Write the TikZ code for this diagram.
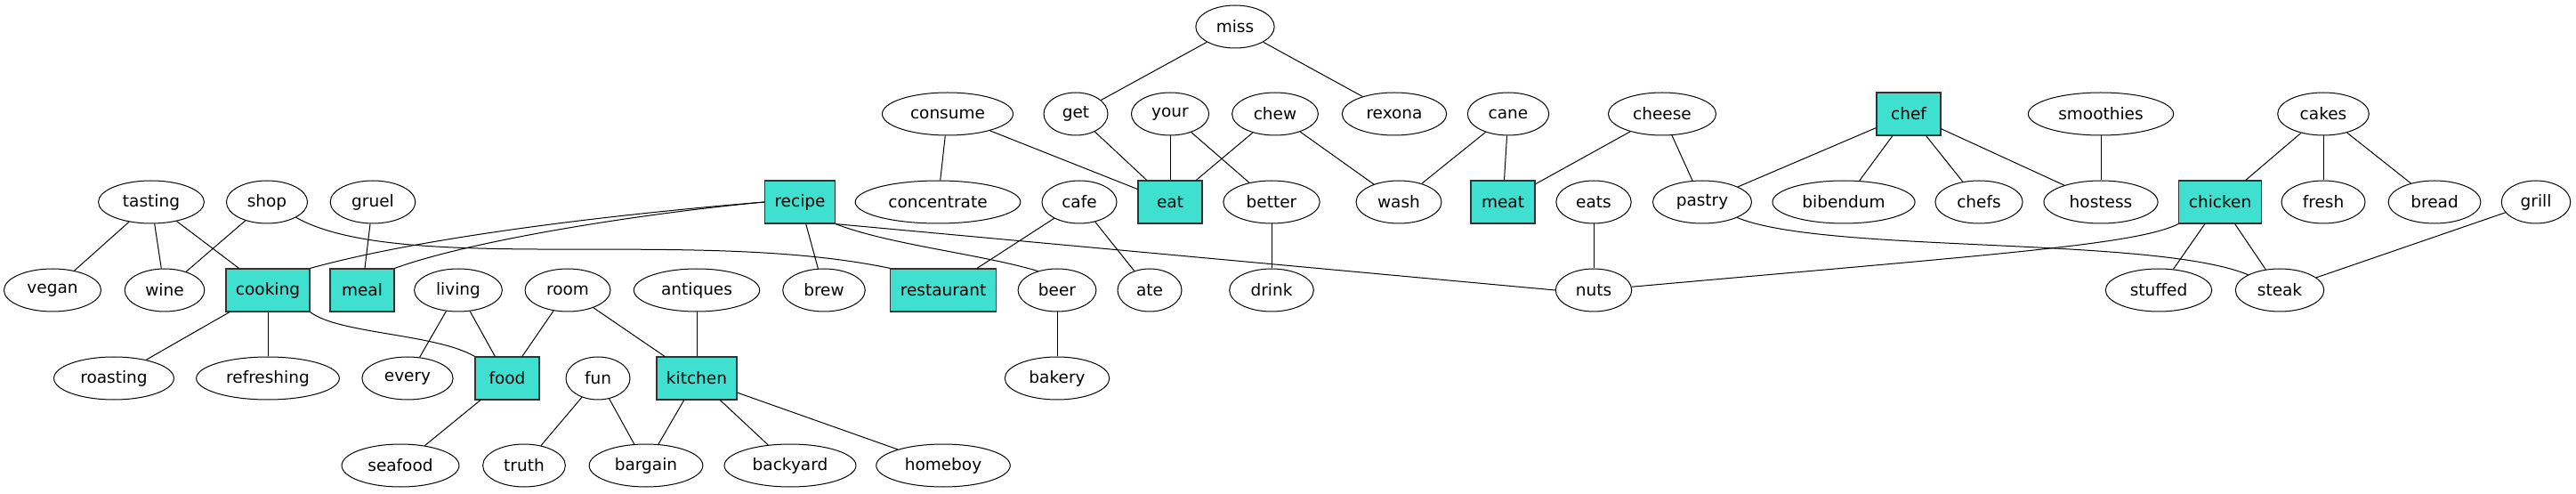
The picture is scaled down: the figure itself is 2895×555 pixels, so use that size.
\documentclass[tikz,border=0pt]{standalone}
\usepackage{fontspec}
\setmainfont{DejaVu Sans}
\usetikzlibrary{shapes.geometric}
\definecolor{turq}{HTML}{40E0D0}
\begin{document}
\begin{tikzpicture}[x=0.5pt,y=-0.5pt,
  word/.style={ellipse, draw=black, line width=0.5pt, minimum width=36pt, minimum height=24pt,
    inner xsep=5pt, inner ysep=1pt, font=\fontsize{9.25pt}{11pt}\selectfont},
  hub/.style={rectangle, draw=black!80, line width=0.6pt, fill=turq, minimum width=36pt, minimum height=24pt,
    inner xsep=5.5pt, inner ysep=1pt, font=\fontsize{9.25pt}{11pt}\selectfont},
  link/.style={draw=black, line width=0.5pt}]
\useasboundingbox (0,0) rectangle (2895,555);
% row 1
\node[word] (miss) at (1388,30) {miss};
% row 2
\node[word] (consume) at (1065,128) {consume};
\node[word] (get) at (1209,128) {get};
\node[word] (your) at (1315,128) {your};
\node[word] (chew) at (1433,128) {chew};
\node[word] (rexona) at (1567,128) {rexona};
\node[word] (cane) at (1695,128) {cane};
\node[word] (cheese) at (1868,128) {cheese};
\node[hub] (chef) at (2145,128) {chef};
\node[word] (smoothies) at (2361,128) {smoothies};
\node[word] (cakes) at (2611,128) {cakes};
% row 3
\node[word] (tasting) at (170,227) {tasting};
\node[word] (shop) at (300,227) {shop};
\node[word] (gruel) at (419,227) {gruel};
\node[hub] (recipe) at (899,227) {recipe};
\node[word] (concentrate) at (1054,227) {concentrate};
\node[word] (cafe) at (1213,227) {cafe};
\node[hub] (eat) at (1315,227) {eat};
\node[word] (better) at (1429,227) {better};
\node[word] (wash) at (1572,227) {wash};
\node[hub] (meat) at (1689,227) {meat};
\node[word] (eats) at (1791,227) {eats};
\node[word] (pastry) at (1913,227) {pastry};
\node[word] (bibendum) at (2072,227) {bibendum};
\node[word] (chefs) at (2224,227) {chefs};
\node[word] (hostess) at (2361,227) {hostess};
\node[hub] (chicken) at (2495,227) {chicken};
\node[word] (fresh) at (2611,227) {fresh};
\node[word] (bread) at (2736,227) {bread};
\node[word] (grill) at (2850,227) {grill};
% row 4
\node[word] (vegan) at (59,326) {vegan};
\node[word] (wine) at (185,326) {wine};
\node[hub] (cooking) at (301,326) {cooking};
\node[hub] (meal) at (407,326) {meal};
\node[word] (living) at (515,326) {living};
\node[word] (room) at (638,326) {room};
\node[word] (antiques) at (783,326) {antiques};
\node[word] (brew) at (926,326) {brew};
\node[hub] (restaurant) at (1060,326) {restaurant};
\node[word] (beer) at (1188,326) {beer};
\node[word] (ate) at (1292,326) {ate};
\node[word] (drink) at (1429,326) {drink};
\node[word] (nuts) at (1791,326) {nuts};
\node[word] (stuffed) at (2426,326) {stuffed};
\node[word] (steak) at (2562,326) {steak};
% row 5
\node[word] (roasting) at (128,425) {roasting};
\node[word] (refreshing) at (301,425) {refreshing};
\node[word] (every) at (458,425) {every};
\node[hub] (food) at (570,425) {food};
\node[word] (fun) at (672,425) {fun};
\node[hub] (kitchen) at (783,425) {kitchen};
\node[word] (bakery) at (1188,425) {bakery};
% row 6
\node[word] (seafood) at (450,523) {seafood};
\node[word] (truth) at (589,523) {truth};
\node[word] (bargain) at (726,523) {bargain};
\node[word] (backyard) at (888,523) {backyard};
\node[word] (homeboy) at (1060,523) {homeboy};
% straight edges
\path[link] (miss) -- (get);
\path[link] (miss) -- (rexona);
\path[link] (consume) -- (concentrate);
\path[link] (consume) -- (eat);
\path[link] (get) -- (eat);
\path[link] (your) -- (eat);
\path[link] (your) -- (better);
\path[link] (chew) -- (eat);
\path[link] (chew) -- (wash);
\path[link] (cane) -- (wash);
\path[link] (cane) -- (meat);
\path[link] (cheese) -- (meat);
\path[link] (cheese) -- (pastry);
\path[link] (chef) -- (pastry);
\path[link] (chef) -- (bibendum);
\path[link] (chef) -- (chefs);
\path[link] (chef) -- (hostess);
\path[link] (smoothies) -- (hostess);
\path[link] (cakes) -- (chicken);
\path[link] (cakes) -- (fresh);
\path[link] (cakes) -- (bread);
\path[link] (chicken) -- (stuffed);
\path[link] (chicken) -- (steak);
\path[link] (grill) -- (steak);
\path[link] (eats) -- (nuts);
\path[link] (better) -- (drink);
\path[link] (cafe) -- (restaurant);
\path[link] (cafe) -- (ate);
\path[link] (recipe) -- (brew);
\path[link] (recipe.south east) -- (nuts.west);
\path[link] (shop) -- (wine);
\path[link] (tasting) -- (vegan);
\path[link] (tasting) -- (wine);
\path[link] (tasting) -- (cooking);
\path[link] (gruel) -- (meal);
\path[link] (cooking) -- (roasting);
\path[link] (cooking) -- (refreshing);
\path[link] (living) -- (every);
\path[link] (living) -- (food);
\path[link] (room) -- (food);
\path[link] (room) -- (kitchen);
\path[link] (antiques) -- (kitchen);
\path[link] (food) -- (seafood);
\path[link] (fun) -- (truth);
\path[link] (fun) -- (bargain);
\path[link] (kitchen) -- (bargain);
\path[link] (kitchen) -- (backyard);
\path[link] (kitchen) -- (homeboy);
\path[link] (beer) -- (bakery);
% curved edges
\path[link] (recipe.west) .. controls (700,240) and (480,265) .. (cooking.north east);
\path[link] (recipe.west) .. controls (720,240) and (530,270) .. (meal.north east);
\path[link] (recipe.south east) .. controls (1000,275) and (1100,285) .. (beer.135);
\path[link] (shop.-28) .. controls (450,310) and (780,255) .. (restaurant.north west);
\path[link] (cooking.south east) .. controls (380,375) and (490,375) .. (food.north west);
\path[link] (chicken.south west) .. controls (2400,275) and (2250,285) .. (nuts.5);
\path[link] (pastry.-24) .. controls (2050,285) and (2420,265) .. (steak.154);
\end{tikzpicture}
\end{document}
